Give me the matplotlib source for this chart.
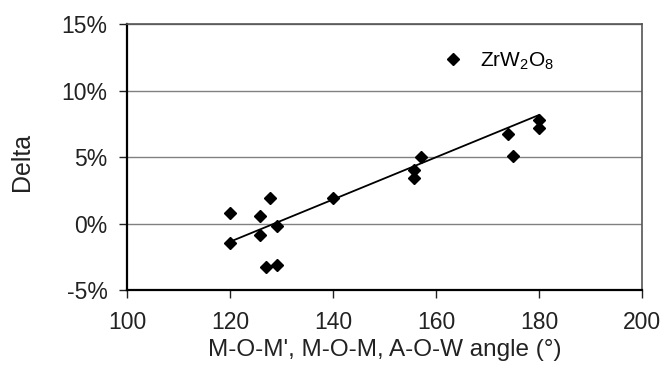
import numpy as np
import matplotlib.pyplot as plt
from matplotlib.ticker import FuncFormatter, MultipleLocator

plt.rcParams['font.family'] = ['Liberation Sans', 'DejaVu Sans']

# bond angle (deg) and delta (%)
angle = [120, 120, 125.8, 125.8, 127.8, 129.2, 127, 129.2, 140,
         157, 155.8, 155.8, 174, 174.9, 180, 180]
delta = [0.8, -1.45, 0.6, -0.85, 1.9, -0.2, -3.25, -3.1, 1.9,
         5.0, 4.0, 3.45, 6.7, 5.1, 7.8, 7.2]
series_name = r'$\mathregular{ZrW_2O_8}$'

# trend line ends as drawn in the chart
trend_x = [120, 180]
trend_y = [-1.37, 8.16]

fig = plt.figure(figsize=(6.66, 3.71), dpi=100)
ax = fig.add_axes([0.1907, 0.2183, 0.7733, 0.717])

ax.plot(angle, delta, 'kD', ms=6.3, label=series_name, zorder=3)
ax.plot(trend_x, trend_y, color='black', lw=1.3, zorder=2)

ax.set_xlim(100, 200)
ax.set_ylim(-5, 15)
ax.xaxis.set_major_locator(MultipleLocator(20))
ax.yaxis.set_major_locator(MultipleLocator(5))
ax.yaxis.set_major_formatter(FuncFormatter(lambda v, p: f'{v:.0f}%'))
ax.grid(axis='y', color='#808080', lw=1)
ax.set_axisbelow(True)

for s in ['left', 'bottom']:
    ax.spines[s].set_linewidth(1.6)
for s in ['top', 'right']:
    ax.spines[s].set_linewidth(1.2)
    ax.spines[s].set_color('#555555')

ax.tick_params(direction='out', length=6, width=1, labelsize=16.5, colors='#222222')
ax.tick_params(axis='y', pad=8)
ax.tick_params(axis='x', pad=9)

ax.set_xlabel("M-O-M', M-O-M, A-O-W angle (°)", fontsize=17.5, color='#222222')
ax.xaxis.set_label_coords(0.5, -0.185)
ax.set_ylabel('Delta', fontsize=18, color='#222222')
ax.yaxis.set_label_coords(-0.18, 0.48)

ax.legend(loc='center left', bbox_to_anchor=(0.556, 0.86), frameon=False,
          fontsize=15, handletextpad=0.3, markerscale=1.0)

fig.savefig('out.png', dpi=100)
